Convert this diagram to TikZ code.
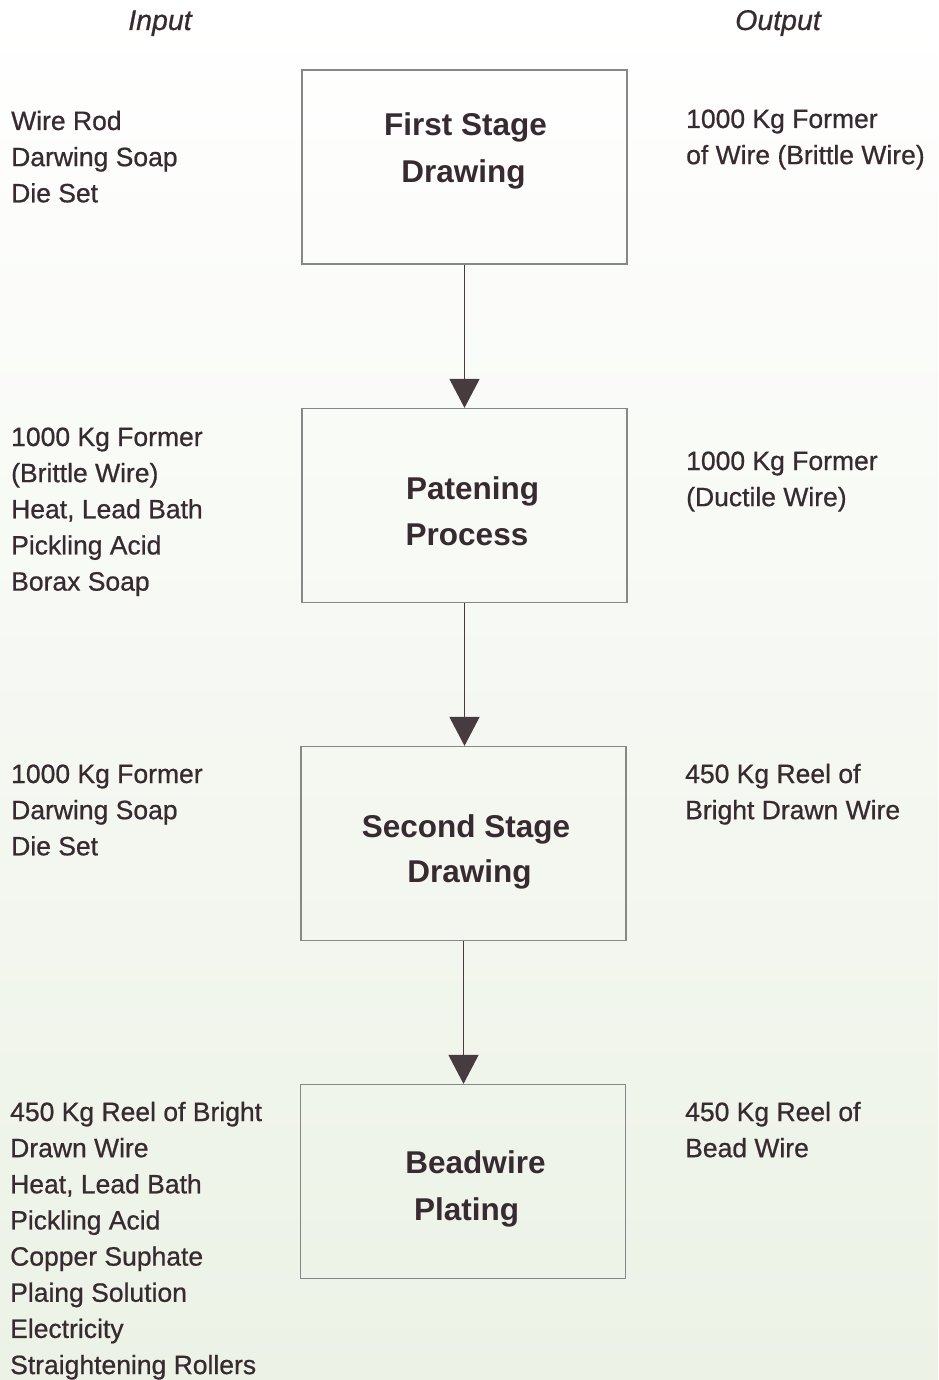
\documentclass[tikz,border=0pt]{standalone}
\usepackage{fontspec}
\setmainfont{Liberation Sans}
\newfontfamily\sidefont[FakeBold=0.7]{Liberation Sans}
\usetikzlibrary{arrows.meta}
\definecolor{textc}{RGB}{55,42,48}
\definecolor{boxc}{RGB}{135,135,135}
\definecolor{arrc}{RGB}{70,60,64}
\definecolor{bgbot}{RGB}{236,242,230}
\begin{document}
\begin{tikzpicture}[x=1pt,y=-1pt,
  side/.style={anchor=base west,inner sep=0pt,text=textc,font=\sidefont\fontsize{26.5}{30}\selectfont},
  head/.style={anchor=base,inner sep=0pt,text=textc,font=\sidefont\fontsize{28.5}{32}\selectfont\itshape},
  boxtxt/.style={anchor=base,inner sep=0pt,text=textc,font=\fontsize{31.5}{36}\selectfont\bfseries},
  stagebox/.style={draw=boxc,line width=1.2pt,minimum width=325pt,minimum height=194pt,inner sep=0pt},
  flow/.style={draw=arrc,line width=1.4pt,-{Triangle[width=30pt,length=29pt]}}]
\shade[top color=white,bottom color=bgbot] (0,0) rectangle (938,1380);
\useasboundingbox (0,0) rectangle (938,1380);

% headers
\node[head] (hin) at (160,30) {Input};
\node[head] (hout) at (778,30) {Output};

% boxes
\node[stagebox] (B1) at (464.5,167) {};
\node[stagebox] (B2) at (464.5,505.5) {};
\node[stagebox] (B3) at (463.5,843.5) {};
\node[stagebox] (B4) at (463,1181.5) {};

% box texts
\node[boxtxt] (t1a) at (465.5,136) {First Stage};
\node[boxtxt] (t1b) at (463.5,183) {Drawing};
\node[boxtxt] (t2a) at (472.5,499) {Patening};
\node[boxtxt] (t2b) at (467,545) {Process};
\node[boxtxt] (t3a) at (466,837) {Second Stage};
\node[boxtxt] (t3b) at (469.5,882) {Drawing};
\node[boxtxt] (t4a) at (475.5,1173) {Beadwire};
\node[boxtxt] (t4b) at (466.5,1220) {Plating};

% arrows
\draw[flow] (B1.south) -- (B1.south |- B2.north);
\draw[flow] (B2.south) -- (B2.south |- B3.north);
\draw[flow] (B3.south) -- (B3.south |- B4.north);

% inputs
\foreach \t [count=\i] in {Wire Rod,Darwing Soap,Die Set}
  \node[side,name=inA\i] at (11,{130+(\i-1)*36.15}) {\t};
\foreach \t [count=\i] in {1000 Kg Former,(Brittle Wire),{Heat, Lead Bath},Pickling Acid,Borax Soap}
  \node[side,name=inB\i] at (11,{446+(\i-1)*36.15}) {\t};
\foreach \t [count=\i] in {1000 Kg Former,Darwing Soap,Die Set}
  \node[side,name=inC\i] at (11,{783+(\i-1)*36.15}) {\t};
\foreach \t [count=\i] in {450 Kg Reel of Bright,Drawn Wire,{Heat, Lead Bath},Pickling Acid,Copper Suphate,Plaing Solution,Electricity,Straightening Rollers}
  \node[side,name=inD\i] at (10,{1121+(\i-1)*36.15}) {\t};

% outputs
\foreach \t [count=\i] in {1000 Kg Former,of Wire (Brittle Wire)}
  \node[side,name=outA\i] at (686,{128+(\i-1)*36.15}) {\t};
\foreach \t [count=\i] in {1000 Kg Former,(Ductile Wire)}
  \node[side,name=outB\i] at (686,{470+(\i-1)*36.15}) {\t};
\foreach \t [count=\i] in {450 Kg Reel of,Bright Drawn Wire}
  \node[side,name=outC\i] at (685,{783+(\i-1)*36.15}) {\t};
\foreach \t [count=\i] in {450 Kg Reel of,Bead Wire}
  \node[side,name=outD\i] at (685,{1121+(\i-1)*36.15}) {\t};
\end{tikzpicture}
\end{document}
